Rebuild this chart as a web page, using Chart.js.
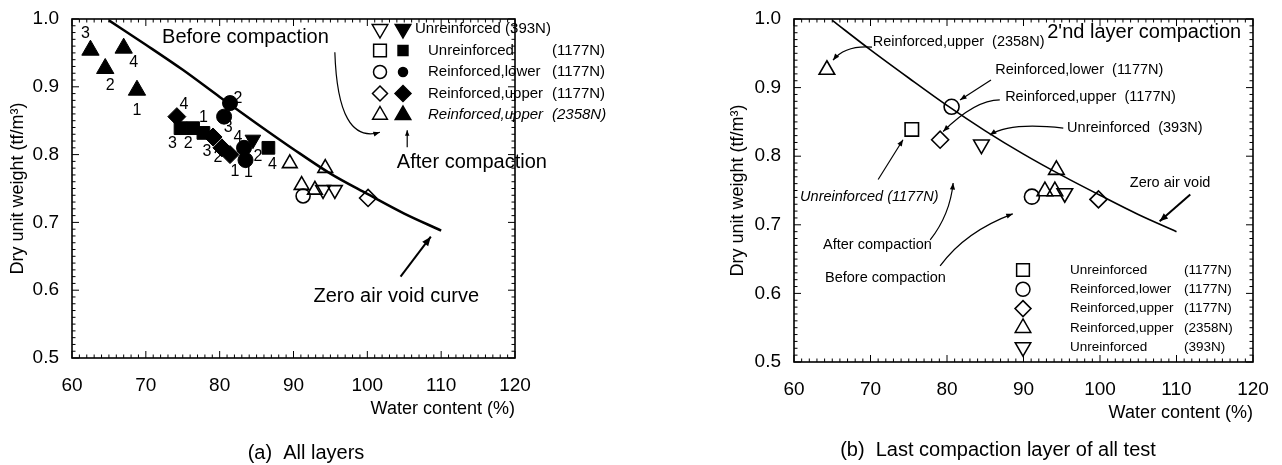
<!DOCTYPE html>
<html>
<head>
<meta charset="utf-8">
<title>Dry unit weight vs water content</title>
<script src="https://cdn.jsdelivr.net/npm/chart.js@4.4.1/dist/chart.umd.min.js"></script>
<style>
  html, body { margin: 0; padding: 0; background: #fff; }
  #wrap { position: relative; width: 1282px; height: 465px; overflow: hidden; }
  #wrap canvas { position: absolute; top: 0; }
  #chartA { left: 0; }
  #chartB { left: 640px; }
</style>
</head>
<body>
<div id="wrap">
  <canvas id="chartA" width="640" height="465"></canvas>
  <canvas id="chartB" width="642" height="465"></canvas>
</div>
<script>
// ---- axis ticks ----
const waterTicks = [60, 70, 80, 90, 100, 110, 120];
const dryTicks = [0.5, 0.6, 0.7, 0.8, 0.9, 1.0];

// ---- zero air void curves (water content %, dry unit weight tf/m3) ----
const zavWaterA = [65, 70, 75, 80, 85, 90, 95, 100, 105, 110];
const zavDryA   = [0.998, 0.962, 0.925, 0.885, 0.846, 0.808, 0.772, 0.742, 0.713, 0.688];
const zavWaterB = [65, 70, 75, 80, 85, 90, 95, 100, 105, 110];
const zavDryB   = [0.998, 0.955, 0.914, 0.874, 0.837, 0.803, 0.772, 0.743, 0.715, 0.690];

// ---- (a) all layers: after compaction (filled) with layer numbers ----
const aAfterUnre393 = [[84.5, 0.822]];
const aAfterUnre393Layer = ['2'];
const aAfterUnre1177 = [[74.7, 0.839], [76.4, 0.839], [77.8, 0.832], [86.6, 0.810]];
const aAfterUnre1177Layer = ['3', '2', '1', '4'];
const aAfterLower1177 = [[81.4, 0.876], [80.6, 0.856], [83.5, 0.792], [83.3, 0.810]];
const aAfterLower1177Layer = ['2', '3', '1', '4'];
const aAfterUpper1177 = [[74.2, 0.856], [79.1, 0.826], [80.3, 0.810], [81.4, 0.800]];
const aAfterUpper1177Layer = ['4', '3', '2', '1'];
const aAfterUpper2358 = [[62.5, 0.954], [64.5, 0.927], [67.0, 0.957], [68.8, 0.895]];
const aAfterUpper2358Layer = ['3', '2', '4', '1'];

// ---- (a) all layers: before compaction (open) ----
const aBeforeUnre393 = [[94.0, 0.748], [95.6, 0.748]];
const aBeforeLower1177 = [[91.3, 0.739]];
const aBeforeUpper1177 = [[100.1, 0.736]];
const aBeforeUpper2358 = [[89.5, 0.787], [94.3, 0.780], [91.1, 0.755], [92.9, 0.748]];

// ---- (b) last compaction layer ----
const bUnre1177 = [[75.4, 0.839]];
const bLower1177 = [[80.6, 0.872], [91.1, 0.741]];
const bUpper1177 = [[79.1, 0.824], [99.8, 0.737]];
const bUpper2358 = [[64.3, 0.926], [94.3, 0.780], [92.8, 0.749], [94.1, 0.749]];
const bUnre393 = [[84.5, 0.817], [95.4, 0.746]];

// ---- legend texts ----
const legendNamesA = ['Unreinforced (393N)', 'Unreinforced', 'Reinforced,lower', 'Reinforced,upper', 'Reinforced,upper'];
const legendLoadsA = ['', '(1177N)', '(1177N)', '(1177N)', '(2358N)'];
const legendNamesB = ['Unreinforced', 'Reinforced,lower', 'Reinforced,upper', 'Reinforced,upper', 'Unreinforced'];
const legendLoadsB = ['(1177N)', '(1177N)', '(1177N)', '(2358N)', '(393N)'];

// ---- layout / styling ----
const FAMILY = '"Liberation Sans", Arial, Helvetica, sans-serif';
Chart.defaults.font.family = FAMILY;
Chart.defaults.color = '#000';

const layerOffsets = {
  unre393: [[5, 17]],
  unre1177: [[-8, 15], [-5, 15], [0, -15], [4, 17]],
  lower1177: [[8, -4], [4, 11], [3, 13], [-6, -10]],
  upper1177: [[7, -12], [-6, 15], [-4, 10], [5, 17]],
  upper2358: [[-5, -17], [5, 17], [10, 14], [0, 20]]
};

const pts = arr => arr.map(([x, y]) => ({ x, y }));
const zip = (xs, ys) => xs.map((x, i) => ({ x, y: ys[i] }));

function curveSet(xs, ys, width) {
  return {
    data: zip(xs, ys), showLine: true, pointRadius: 0,
    borderColor: '#000', borderWidth: width,
    cubicInterpolationMode: 'monotone', order: 5
  };
}

function markSet(data, style, radius, filled, extra) {
  return Object.assign({
    data: pts(data), showLine: false,
    pointStyle: style, pointRadius: radius, pointRotation: 0,
    pointBackgroundColor: filled ? '#000' : 'rgba(0,0,0,0)',
    pointBorderColor: '#000', pointBorderWidth: filled ? 1 : 1.6,
    order: 1
  }, extra || {});
}

function markerPath(ctx, style, x, y, r, down) {
  ctx.beginPath();
  if (style === 'circle') {
    ctx.arc(x, y, r, 0, Math.PI * 2);
  } else if (style === 'rect') {
    const h = r * Math.SQRT1_2;
    ctx.rect(x - h, y - h, 2 * h, 2 * h);
  } else if (style === 'rectRot') {
    ctx.moveTo(x, y - r); ctx.lineTo(x + r, y); ctx.lineTo(x, y + r); ctx.lineTo(x - r, y);
    ctx.closePath();
  } else {
    const s = down ? -1 : 1;
    ctx.moveTo(x, y - s * r);
    ctx.lineTo(x + r * 0.866, y + s * r / 2);
    ctx.lineTo(x - r * 0.866, y + s * r / 2);
    ctx.closePath();
  }
}

function drawMarker(ctx, m, x, y, filled) {
  ctx.save();
  ctx.lineWidth = 1.5;
  ctx.strokeStyle = '#000';
  ctx.fillStyle = '#000';
  markerPath(ctx, m.style, x, y, filled ? (m.rf || m.r) : m.r, m.down);
  if (filled) ctx.fill();
  ctx.stroke();
  ctx.restore();
}

// frame with inward major/minor ticks on all four sides
const frameTicks = {
  id: 'frameTicks',
  afterDatasetsDraw(chart) {
    const { ctx, chartArea: a, scales: { x, y } } = chart;
    ctx.save();
    ctx.strokeStyle = '#000';
    ctx.lineWidth = 1.6;
    ctx.strokeRect(a.left, a.top, a.right - a.left, a.bottom - a.top);
    ctx.lineWidth = 1;
    ctx.beginPath();
    for (let i = 0; i <= 60; i++) {
      const p = x.getPixelForValue(60 + i);
      const len = i % 10 === 0 ? 7 : 3.5;
      ctx.moveTo(p, a.bottom); ctx.lineTo(p, a.bottom - len);
      ctx.moveTo(p, a.top); ctx.lineTo(p, a.top + len);
    }
    for (let i = 0; i <= 50; i++) {
      const p = y.getPixelForValue(0.5 + i * 0.01);
      const len = i % 10 === 0 ? 7 : 3.5;
      ctx.moveTo(a.left, p); ctx.lineTo(a.left + len, p);
      ctx.moveTo(a.right, p); ctx.lineTo(a.right - len, p);
    }
    ctx.stroke();
    ctx.restore();
  }
};

// layer numbers next to the after-compaction marks
const layerLabels = {
  id: 'layerLabels',
  afterDatasetsDraw(chart) {
    const ctx = chart.ctx;
    ctx.save();
    ctx.fillStyle = '#000';
    ctx.font = '16px ' + FAMILY;
    ctx.textAlign = 'center';
    ctx.textBaseline = 'middle';
    chart.data.datasets.forEach((ds, i) => {
      if (!ds.layers) return;
      chart.getDatasetMeta(i).data.forEach((el, j) => {
        const [dx, dy] = ds.layerOffsets[j];
        ctx.fillText(ds.layers[j], el.x + dx, el.y + dy);
      });
    });
    ctx.restore();
  }
};

function arrowHead(ctx, x0, y0, x1, y1, size) {
  const ang = Math.atan2(y1 - y0, x1 - x0);
  ctx.beginPath();
  ctx.moveTo(x1, y1);
  ctx.lineTo(x1 - size * Math.cos(ang - 0.38), y1 - size * Math.sin(ang - 0.38));
  ctx.lineTo(x1 - size * Math.cos(ang + 0.38), y1 - size * Math.sin(ang + 0.38));
  ctx.closePath();
  ctx.fill();
}

// free text, arrows, legend block and caption for one panel
function notesPlugin(cfg) {
  return {
    id: 'notes',
    afterDraw(chart) {
      const { ctx, chartArea: a, scales: { x, y } } = chart;
      const P = v => [x.getPixelForValue(v[0]), y.getPixelForValue(v[1])];
      ctx.save();
      ctx.fillStyle = '#000';
      ctx.strokeStyle = '#000';
      ctx.textBaseline = 'middle';

      cfg.texts.forEach(t => {
        const [tx, ty] = P(t.at);
        ctx.font = (t.italic ? 'italic ' : '') + t.size + 'px ' + FAMILY;
        ctx.textAlign = t.align || 'left';
        ctx.fillText(t.text, tx, ty);
      });

      cfg.arrows.forEach(ar => {
        const [sx, sy] = P(ar.from);
        const [ex, ey] = P(ar.to);
        ctx.lineWidth = ar.width || 1.2;
        ctx.beginPath();
        ctx.moveTo(sx, sy);
        let hx = sx, hy = sy;
        if (ar.via) {
          const [cx, cy] = P(ar.via);
          ctx.quadraticCurveTo(cx, cy, ex, ey);
          hx = cx; hy = cy;
        } else {
          ctx.lineTo(ex, ey);
        }
        ctx.stroke();
        arrowHead(ctx, hx, hy, ex, ey, ar.head || 8);
      });

      const lg = cfg.legend;
      lg.rows.forEach((row, i) => {
        const ry = a.top + lg.top + i * lg.gap;
        drawMarker(ctx, row.mark, a.left + lg.openX, ry, false);
        if (lg.filledX !== undefined) drawMarker(ctx, row.mark, a.left + lg.filledX, ry, true);
        ctx.font = (row.italic ? 'italic ' : '') + lg.size + 'px ' + FAMILY;
        ctx.textAlign = 'left';
        ctx.fillText(row.name, a.left + (row.textX !== undefined ? row.textX : lg.textX), ry);
        if (row.load) ctx.fillText(row.load, a.left + lg.loadX, ry);
      });

      ctx.font = '20px ' + FAMILY;
      ctx.textAlign = 'center';
      ctx.fillText(cfg.caption.text, cfg.caption.x, cfg.caption.y);
      ctx.restore();
    }
  };
}

function makeChart(id, datasets, pad, notes) {
  const tickFont = { size: 19, family: FAMILY };
  const titleFont = { size: 18, family: FAMILY };
  return new Chart(document.getElementById(id), {
    type: 'scatter',
    data: { datasets },
    options: {
      responsive: false,
      animation: false,
      events: [],
      layout: { padding: pad.layout },
      plugins: { legend: { display: false }, tooltip: { enabled: false } },
      scales: {
        x: {
          type: 'linear', min: 60, max: 120,
          afterFit: s => { s.height = 80; },
          afterBuildTicks: s => { s.ticks = waterTicks.map(v => ({ value: v })); },
          grid: { display: false }, border: { display: false },
          ticks: { font: tickFont, color: '#000', padding: 8, maxRotation: 0 },
          title: { display: true, text: 'Water content (%)', align: 'end', font: titleFont, color: '#000', padding: { top: 0, bottom: 18 } }
        },
        y: {
          type: 'linear', min: 0.5, max: 1.0,
          afterFit: s => { s.width = 72; },
          afterBuildTicks: s => { s.ticks = dryTicks.map(v => ({ value: v })); },
          grid: { display: false }, border: { display: false },
          ticks: { font: tickFont, color: '#000', padding: 5, callback: v => v.toFixed(1) },
          title: { display: true, text: 'Dry unit weight (tf/m³)', font: titleFont, color: '#000', padding: { top: pad.yTitle, bottom: 0 } }
        }
      }
    },
    plugins: [frameTicks, layerLabels, notesPlugin(notes)]
  });
}

// marker shapes
const M = {
  unre393: { style: 'triangle', down: true, r: 9, rf: 9 },
  unre1177: { style: 'rect', r: 9, rf: 7 },
  lower1177: { style: 'circle', r: 6.5, rf: 4.5 },
  upper1177: { style: 'rectRot', r: 7.5, rf: 8 },
  upper2358: { style: 'triangle', r: 8.5, rf: 9 }
};

// ---------- (a) All layers ----------
const setsA = [
  curveSet(zavWaterA, zavDryA, 2.5),
  markSet(aAfterUnre393, 'triangle', 9, true, { pointRotation: 180, layers: aAfterUnre393Layer, layerOffsets: layerOffsets.unre393 }),
  markSet(aAfterUnre1177, 'rect', 9, true, { layers: aAfterUnre1177Layer, layerOffsets: layerOffsets.unre1177 }),
  markSet(aAfterLower1177, 'circle', 7.5, true, { layers: aAfterLower1177Layer, layerOffsets: layerOffsets.lower1177 }),
  markSet(aAfterUpper1177, 'rectRot', 9, true, { layers: aAfterUpper1177Layer, layerOffsets: layerOffsets.upper1177 }),
  markSet(aAfterUpper2358, 'triangle', 10, true, { layers: aAfterUpper2358Layer, layerOffsets: layerOffsets.upper2358 }),
  markSet(aBeforeUnre393, 'triangle', 8.5, false, { pointRotation: 180 }),
  markSet(aBeforeLower1177, 'circle', 7, false),
  markSet(aBeforeUpper1177, 'rectRot', 8.5, false),
  markSet(aBeforeUpper2358, 'triangle', 8.5, false)
];

const marksA = [M.unre393, M.unre1177, M.lower1177, M.upper1177, M.upper2358];
makeChart('chartA', setsA, { layout: { left: 0, top: 19, right: 125, bottom: 27 }, yTitle: 7 }, {
  texts: [
    { text: 'Before compaction', at: [72.2, 0.973], size: 20 },
    { text: 'After compaction', at: [104.0, 0.789], size: 20 },
    { text: 'Zero air void curve', at: [92.7, 0.591], size: 20 }
  ],
  arrows: [
    { from: [95.6, 0.951], via: [96.0, 0.814], to: [101.7, 0.833], head: 7 },
    { from: [105.4, 0.811], to: [105.4, 0.836], head: 6 },
    { from: [104.5, 0.620], to: [108.6, 0.679], head: 10, width: 2 }
  ],
  legend: {
    top: 10, gap: 21.5, openX: 308, filledX: 331, textX: 356, loadX: 480, size: 15,
    rows: legendNamesA.map((n, i) => ({
      mark: marksA[i], name: n, load: legendLoadsA[i],
      italic: i === 4, textX: i === 0 ? 343 : undefined
    }))
  },
  caption: { text: '(a)  All layers', x: 306, y: 453 }
});

// ---------- (b) Last compaction layer of all test ----------
const setsB = [
  curveSet(zavWaterB, zavDryB, 1.6),
  markSet(bUnre1177, 'rect', 9.5, false),
  markSet(bLower1177, 'circle', 7.5, false),
  markSet(bUpper1177, 'rectRot', 8.5, false),
  markSet(bUpper2358, 'triangle', 9, false),
  markSet(bUnre393, 'triangle', 9, false, { pointRotation: 180 })
];

const marksB = [
  { style: 'rect', r: 9 }, { style: 'circle', r: 7 }, { style: 'rectRot', r: 8 },
  { style: 'triangle', r: 9 }, { style: 'triangle', down: true, r: 9 }
];
makeChart('chartB', setsB, { layout: { left: 82, top: 19, right: 29, bottom: 23 }, yTitle: 5 }, {
  texts: [
    { text: 'Reinforced,upper  (2358N)', at: [70.3, 0.967], size: 14.5 },
    { text: "2'nd layer compaction", at: [93.1, 0.981], size: 20 },
    { text: 'Reinforced,lower  (1177N)', at: [86.3, 0.926], size: 14.5 },
    { text: 'Reinforced,upper  (1177N)', at: [87.6, 0.886], size: 14.5 },
    { text: 'Unreinforced  (393N)', at: [95.7, 0.841], size: 14.5 },
    { text: 'Zero air void', at: [103.9, 0.761], size: 14.5 },
    { text: 'Unreinforced (1177N)', at: [60.8, 0.741], size: 14.5, italic: true },
    { text: 'After compaction', at: [63.8, 0.671], size: 14.5 },
    { text: 'Before compaction', at: [64.05, 0.623], size: 14.5 }
  ],
  arrows: [
    { from: [70.2, 0.959], via: [66.7, 0.962], to: [65.1, 0.940], head: 7 },
    { from: [85.75, 0.911], to: [81.7, 0.882], head: 7 },
    { from: [86.9, 0.882], via: [83.7, 0.882], to: [79.5, 0.836], head: 7 },
    { from: [95.2, 0.841], via: [88.2, 0.850], to: [85.6, 0.831], head: 7 },
    { from: [111.8, 0.744], to: [107.8, 0.705], head: 9, width: 2 },
    { from: [71.0, 0.766], to: [74.25, 0.824], head: 7 },
    { from: [77.8, 0.678], via: [80.4, 0.715], to: [80.8, 0.761], head: 7 },
    { from: [79.1, 0.640], via: [82.35, 0.690], to: [88.6, 0.716], head: 7 }
  ],
  legend: {
    top: 251, gap: 19.3, openX: 229, textX: 276, loadX: 390, size: 13.5,
    rows: legendNamesB.map((n, i) => ({ mark: marksB[i], name: n, load: legendLoadsB[i] }))
  },
  caption: { text: '(b)  Last compaction layer of all test', x: 358, y: 450 }
});
</script>
</body>
</html>
